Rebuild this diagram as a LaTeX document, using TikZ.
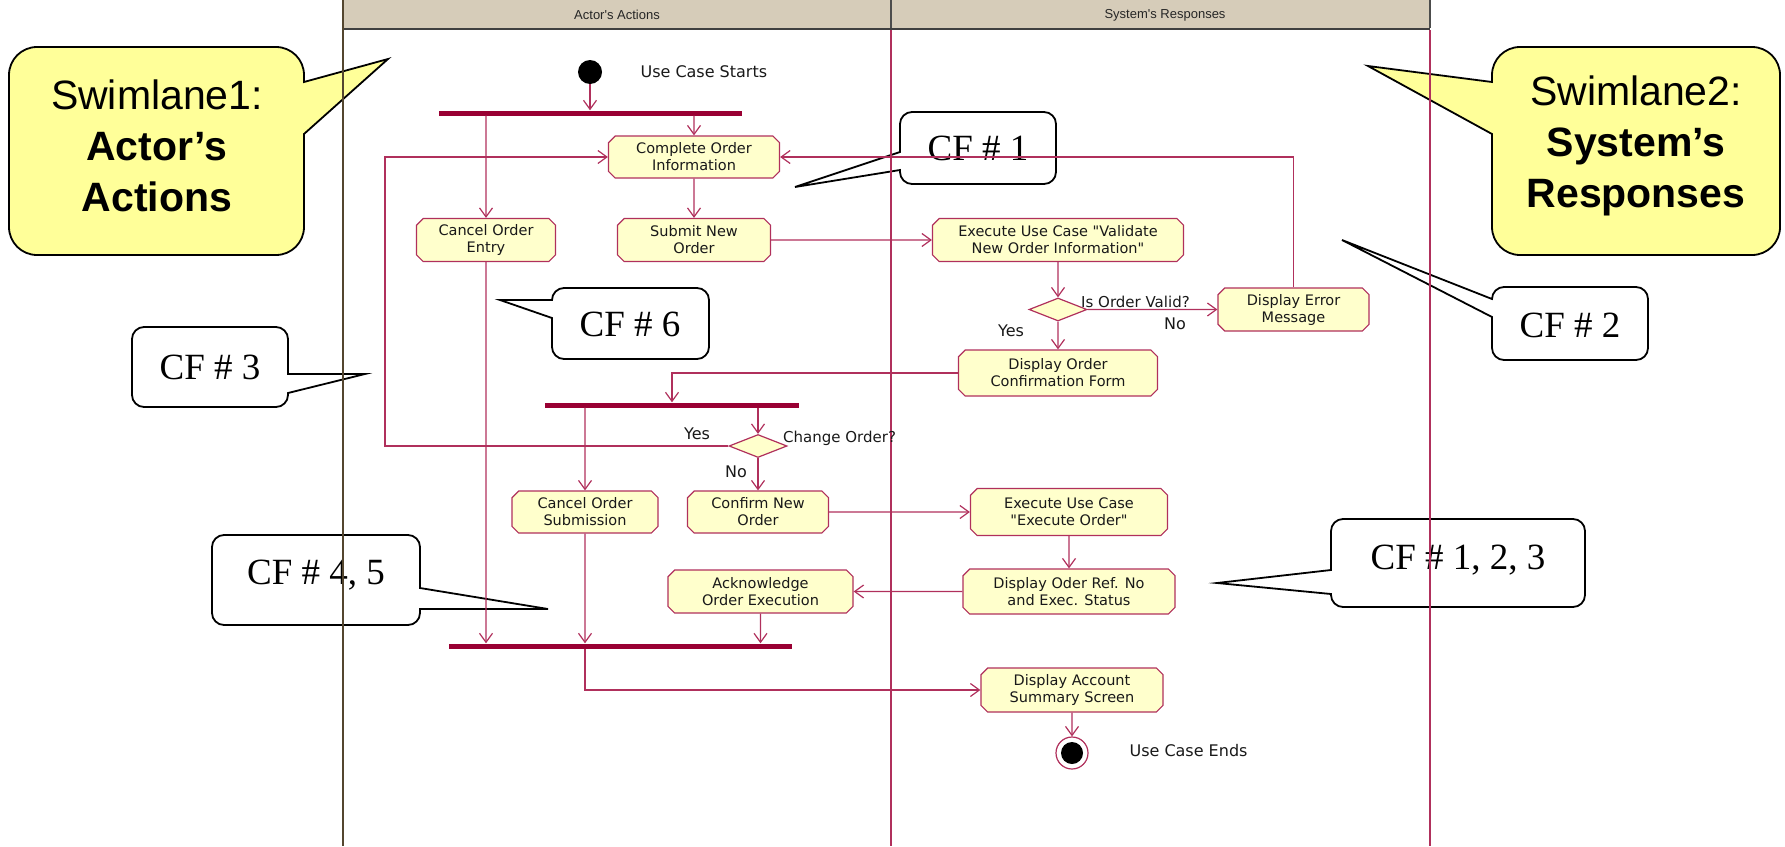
\documentclass[tikz,border=0pt]{standalone}
\usepackage{fontspec}
\setmainfont{DejaVu Sans}
\newfontfamily\calloutfont{Liberation Sans}
\newfontfamily\notefont{Liberation Serif}
\usepackage{tikz}
\usetikzlibrary{arrows.meta,shapes.geometric,shapes.misc,positioning,calc}

\definecolor{umlline}{HTML}{B0305C}
\definecolor{umlbar}{HTML}{990033}
\definecolor{umlfill}{HTML}{FFFFCC}
\definecolor{calloutyellow}{HTML}{FFFF99}
\definecolor{lanehead}{HTML}{D6CCB9}
\definecolor{laneleft}{HTML}{54462F}

\begin{document}
\begin{tikzpicture}[x=1pt, y=-1pt,
    activity/.style={chamfered rectangle, chamfered rectangle xsep=3pt, draw=umlline, line width=1.2pt, fill=umlfill, align=center, inner sep=1pt, text=black!90, font=\fontsize{14.5}{17}\selectfont},
    decision/.style={diamond, draw=umlline, line width=1.2pt, fill=umlfill, inner sep=0pt, minimum width=58pt, minimum height=23pt},
    forkbar/.style={rectangle, fill=umlbar, inner sep=0pt, minimum height=5pt},
    flow/.style={draw=umlline, line width=1.2pt, -{Straight Barb[length=9pt,width=13pt]}},
    guard/.style={inner sep=0pt, text=black!90, font=\fontsize{15}{18}\selectfont},
    callout/.style={draw=black, line width=1.8pt, fill=calloutyellow},
    cfnote/.style={draw=black, line width=1.8pt, fill=white},
    calltext/.style={align=center, font=\calloutfont\fontsize{41}{51}\selectfont},
    cftext/.style={font=\notefont\fontsize{37}{44}\selectfont}]
\useasboundingbox (0,0) rectangle (1785,846);

% yellow swimlane callouts
\draw[callout] (304,134) [rounded corners=28pt] -- (304,255) -- (9,255) -- (9,47) -- (304,47) [sharp corners] -- (304,82) -- (388,59) -- cycle;
\node[calltext] (lane1note) at (157,146) {Swimlane1:\\\textbf{Actor’s}\\\textbf{Actions}};
\draw[callout] (1492,134) [rounded corners=28pt] -- (1492,255) -- (1780,255) -- (1780,47) -- (1492,47) [sharp corners] -- (1492,82) -- (1368,66) -- cycle;
\node[calltext] (lane2note) at (1636,146) {Swimlane2:\\\textbf{System’s}\\\textbf{Responses}};

% CF callouts
\draw[cfnote] (900,170) [rounded corners=12pt] -- (900,184) -- (1056,184) -- (1056,112) -- (900,112) [sharp corners] -- (900,152) -- (795,187) -- cycle;
\node[cftext] (cf1) at (978,148) {CF \# 1};
\draw[cfnote] (552,318) [rounded corners=12pt] -- (552,359) -- (709,359) -- (709,288) -- (552,288) [sharp corners] -- (552,300) -- (500,300) -- cycle;
\node[cftext] (cf6) at (630,324) {CF \# 6};
\draw[cfnote] (1492,317) [rounded corners=12pt] -- (1492,360) -- (1648,360) -- (1648,287) -- (1492,287) [sharp corners] -- (1492,299) -- (1342,240) -- cycle;
\node[cftext] (cf2) at (1570,325) {CF \# 2};
\draw[cfnote] (288,393) [rounded corners=12pt] -- (288,407) -- (132,407) -- (132,327) -- (288,327) [sharp corners] -- (288,374) -- (365,374) -- cycle;
\node[cftext] (cf3) at (210,367) {CF \# 3};
\draw[cfnote] (420,609) [rounded corners=12pt] -- (420,625) -- (212,625) -- (212,535) -- (420,535) [sharp corners] -- (420,588) -- (548,609) -- cycle;
\node[cftext] (cf45) at (316,575) {CF \# 4, 5};
\draw[cfnote] (1331,594) [rounded corners=12pt] -- (1331,607) -- (1585,607) -- (1585,519) -- (1331,519) [sharp corners] -- (1331,570) -- (1217,583) -- cycle;
\node[cftext] (cf123) at (1458,560) {CF \# 1, 2, 3};

% lanes
\fill[lanehead] (343,0) rectangle (1430,28);
\draw[black!75, line width=2pt] (343,29) -- (1430,29);
\foreach \x in {891,1430}{\draw[black!70, line width=1.2pt] (\x,0) -- (\x,28); \draw[umlline, line width=1.2pt] (\x,30) -- (\x,846);}
\draw[laneleft, line width=2.5pt] (343,0) -- (343,846);
\node[font=\calloutfont\fontsize{13}{15}\selectfont, text=black!85] (lanehd1) at (617,15) {Actor's Actions};
\node[font=\calloutfont\fontsize{13}{15}\selectfont, text=black!85] (lanehd2) at (1165,15) {System's Responses};

% activities
\node[circle, fill=black, minimum size=24pt, inner sep=0pt] (start) at (590,72) {};
\node[anchor=west, text=black!90, font=\fontsize{16}{19}\selectfont] (startlbl) at (637,72) {Use Case Starts};
\node[forkbar, minimum width=303pt] (fork1) at (590.5,113) {};
\node[activity, minimum width=171pt, minimum height=42pt] (complete) at (694,157) {Complete Order\\Information};
\node[activity, minimum width=139pt, minimum height=43pt] (entry) at (486,240) {Cancel Order\\Entry};
\node[activity, minimum width=153pt, minimum height=43pt] (submit) at (694,240) {Submit New\\Order};
\node[activity, minimum width=251pt, minimum height=43pt] (validate) at (1058,240) {Execute Use Case \textquotedbl Validate\\New Order Information\textquotedbl};
\node[decision] (valid) at (1058,309.5) {};
\node[activity, minimum width=151pt, minimum height=43pt] (error) at (1293.5,309.5) {Display Error\\Message};
\node[activity, minimum width=199pt, minimum height=46pt] (confirmform) at (1058,373) {Display Order\\Confirmation Form};
\node[forkbar, minimum width=254pt] (fork2) at (672,405) {};
\node[decision] (change) at (758,446) {};
\node[activity, minimum width=146pt, minimum height=42pt] (cancelsub) at (585,512) {Cancel Order\\Submission};
\node[activity, minimum width=141pt, minimum height=42pt] (confirm) at (758,512) {Confirm New\\Order};
\node[activity, minimum width=197pt, minimum height=47pt] (execorder) at (1069,512) {Execute Use Case\\\textquotedbl Execute Order\textquotedbl};
\node[activity, minimum width=212pt, minimum height=45pt] (status) at (1069,591.5) {Display Oder Ref. No\\and Exec. Status};
\node[activity, minimum width=185pt, minimum height=43pt] (ack) at (760.5,591.5) {Acknowledge\\Order Execution};
\node[forkbar, minimum width=343pt] (join) at (620.5,646) {};
\node[activity, minimum width=182pt, minimum height=44pt] (summary) at (1072,690) {Display Account\\Summary Screen};
\node[circle, draw=umlline, line width=1.2pt, fill=white, minimum size=32pt, inner sep=0pt] (end) at (1072,753) {};
\fill (end.center) circle (11pt);
\node[anchor=west, text=black!90, font=\fontsize{16}{19}\selectfont] (endlbl) at (1126,751) {Use Case Ends};
\coordinate (loopx) at (385,0);

% guards
\node[guard, anchor=west] (validq) at (1081,302) {Is Order Valid?};
\node[guard, font=\fontsize{16}{19}\selectfont] (validno) at (1175,324) {No};
\node[guard, font=\fontsize{16}{19}\selectfont] (validyes) at (1011,331) {Yes};
\node[guard, anchor=west] (changeq) at (783,438) {Change Order?};
\node[guard, font=\fontsize{16}{19}\selectfont] (changeyes) at (697,434) {Yes};
\node[guard, font=\fontsize{16}{19}\selectfont] (changeno) at (736,472) {No};

% transitions
\draw[flow] (start) -- (fork1.north -| start);
\draw[flow] (fork1.south -| entry) -- (entry);
\draw[flow] (fork1.south -| complete) -- (complete);
\draw[flow] (complete) -- (submit);
\draw[flow] (submit) -- (validate);
\draw[flow] (validate) -- (valid);
\draw[flow] (valid) -- (error);
\draw[flow] (valid) -- (confirmform);
\draw[flow] (error) |- (complete);
\draw[flow] (confirmform) -| (fork2.north);
\draw[flow] (fork2.south -| cancelsub) -- (cancelsub);
\draw[flow] (fork2.south -| change) -- (change);
\draw[flow] (change.west) -- (change.west -| loopx) |- (complete);
\draw[flow] (change) -- (confirm);
\draw[flow] (confirm) -- (execorder);
\draw[flow] (execorder) -- (status);
\draw[flow] (status) -- (ack);
\draw[flow] (entry) -- (entry |- join.north);
\draw[flow] (cancelsub) -- (cancelsub |- join.north);
\draw[flow] (ack) -- (ack |- join.north);
\draw[flow] (join.south -| cancelsub) |- (summary);
\draw[flow] (summary) -- (end);
\end{tikzpicture}
\end{document}
